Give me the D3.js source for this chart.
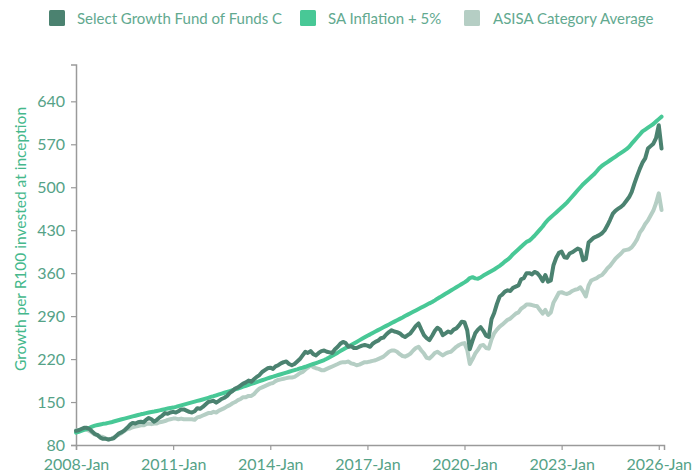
<!DOCTYPE html>
<html>
<head>
<meta charset="utf-8">
<script src="https://cdn.jsdelivr.net/npm/d3@7/dist/d3.min.js"></script>
<style>
  html, body { margin: 0; padding: 0; background: #fff; }
  svg { display: block; }
  text { font-family: Lato, "Open Sans", sans-serif; }
</style>
</head>
<body>
<svg id="chart" width="692" height="474"></svg>
<script>
// ---- Data (monthly, starting 2008-01) ----
const startYear = 2008;
const seriesNames = ["Select Growth Fund of Funds C", "SA Inflation + 5%", "ASISA Category Average"];
const seriesColors = ["#4b8270", "#48c896", "#b5cec4"];

const fundValues = [
  103,104,106,108,108,106,102,98,96,92,90,90,
  89,90,91,95,99,101,104,108,113,116,115,117,
  118,117,121,124,122,118,121,125,128,132,131,133,
  134,133,135,138,138,136,134,133,135,140,139,142,
  146,150,151,152,149,152,155,157,160,165,168,172,
  174,177,180,182,185,183,187,191,194,199,202,205,
  206,204,208,210,213,215,216,212,210,212,216,220,
  226,232,230,233,228,226,230,233,234,232,231,230,
  236,240,245,248,246,240,241,238,238,240,242,243,
  242,240,245,248,250,254,255,260,264,267,265,264,
  262,258,256,259,262,268,274,278,268,259,254,251,
  258,266,271,268,259,262,265,263,268,270,275,281,
  280,267,236,250,262,268,272,266,258,256,285,295,
  310,322,325,330,332,331,336,338,340,350,352,360,
  360,358,362,360,355,347,357,346,348,373,385,393,
  395,386,385,392,394,397,400,398,381,383,410,414,
  418,420,422,425,430,438,447,457,462,465,468,472,
  478,484,492,506,518,530,540,547,563,567,571,580,
  601,563
];

const inflationValues = [
  100,101.5,103,104.5,106,108,110,111.5,112.5,113.5,114.5,115,
  116,117,118.3,119.5,120.7,121.9,123,124.2,125.4,126.6,127.7,128.8,
  130,131,132,133,133.8,134.6,135.5,136.4,137.4,138.4,139.4,140.4,
  141,142.2,143.4,144.6,145.8,147,148.2,149.4,150.6,151.8,153,154.2,
  155.5,156.9,158.3,159.6,161,162.4,163.7,165.1,166.5,167.8,169.2,170.6,
  172,173.5,175,176.5,178,179.5,181,182.5,184,185.5,187,188.5,
  190,191.3,192.7,194,195.3,196.7,198,199.3,200.7,202,203.3,204.7,
  206,207.5,209,210.5,212,213.5,215,216.7,218.4,220.5,223,225.5,
  228,230.5,233,235.5,238,240.5,243,245.5,248,250.5,253,255.5,
  258,260.3,262.6,264.9,267.2,269.5,271.8,274.1,276.4,278.7,281,283.3,
  285.5,287.8,290.1,292.4,294.7,297,299.3,301.6,303.9,306.2,308.5,310.8,
  313,315.7,318.4,321,323.7,326.4,329,331.7,334.4,337,339.7,342.4,
  345,348,352,353.5,351.5,351,353,356,358.5,361,363.5,366,
  369,372,375,379,382,386,391,395,399,403,407,411,
  413,417,421,426,431,436,442,447,451,455,459,463,
  467,471,475,480,485,490,495,500,505,509,513,517,
  521,526,531,535,538,541,544,547,550,553,556,559,
  562,566,571,576,581,586,591,594,597,600,603,607,
  611,615
];

const categoryValues = [
  104,104,105,106,105,103,100,97,96,94,93,91,
  89,90,92,95,97,100,103,106,107,109,110,111,
  112,112,114,115,114,115,115,117,118,119,121,122,
  123,123,122,123,122,122,122,122,121,125,126,128,
  130,132,132,134,133,136,138,140,143,145,148,150,
  153,155,158,158,160,160,163,168,172,174,176,178,
  180,181,184,186,187,188,189,190,190,191,194,197,
  199,203,206,210,207,205,204,202,202,204,206,208,
  210,212,214,215,215,216,213,212,210,211,213,215,
  215,216,217,218,220,222,224,228,232,234,234,232,
  228,225,224,226,229,234,238,240,234,229,222,221,
  225,230,232,229,226,229,231,232,236,240,243,245,
  246,235,212,220,229,235,242,243,238,237,252,262,
  268,273,276,280,284,286,290,294,296,302,305,309,
  309,308,307,306,300,294,300,292,296,312,320,328,
  329,327,326,328,331,333,334,337,330,322,340,348,
  350,352,355,357,362,368,372,378,384,388,392,397,
  398,399,402,408,415,426,432,440,446,454,462,474,
  490,463
];

const yTicks = [80, 150, 220, 290, 360, 430, 500, 570, 640];
const xTickYears = [2008, 2011, 2014, 2017, 2020, 2023, 2026];
const yTitle = "Growth per R100 invested at inception";

// ---- Build ----
const dates = fundValues.map((_, i) => new Date(startYear, i, 1));
const series = [
  { name: seriesNames[2], color: seriesColors[2], values: categoryValues },
  { name: seriesNames[1], color: seriesColors[1], values: inflationValues },
  { name: seriesNames[0], color: seriesColors[0], values: fundValues }
];

const svg = d3.select("#chart");
const x = d3.scaleTime()
  .domain([new Date(2008, 0, 1), new Date(2026, 2, 1)])
  .range([76, 664]);
const y = d3.scaleLinear().domain([80, 700]).range([445, 64.5]);

const tickColor = "#55a287";
const axisColor = "#9a9a9a";

// Y axis
const yAxis = svg.append("g")
  .attr("transform", "translate(76,0)")
  .call(d3.axisLeft(y).tickValues(yTicks).tickSizeOuter(0).tickSize(5).tickPadding(6));
yAxis.select(".domain").attr("stroke", axisColor).attr("stroke-width", 1.5);
yAxis.selectAll(".tick line").attr("stroke", axisColor).attr("stroke-width", 1.2);
yAxis.selectAll(".tick text").attr("fill", tickColor).style("font-size", "16px").style("font-family", "Lato, sans-serif");

// X axis
const xAxis = svg.append("g")
  .attr("transform", "translate(0,445)")
  .call(d3.axisBottom(x)
    .tickValues(xTickYears.map(yy => new Date(yy, 0, 1)))
    .tickFormat(d3.timeFormat("%Y-%b"))
    .tickSizeOuter(0).tickSize(5).tickPadding(9));
xAxis.select(".domain").attr("stroke", axisColor).attr("stroke-width", 1.5);
xAxis.selectAll(".tick line").attr("stroke", axisColor).attr("stroke-width", 1.2);
xAxis.selectAll(".tick text").attr("fill", tickColor).style("font-size", "16px").style("font-family", "Lato, sans-serif");

// Y title
svg.append("text")
  .attr("transform", "translate(26,239) rotate(-90)")
  .attr("text-anchor", "middle")
  .attr("fill", "#45b88c")
  .style("font-size", "15.5px")
  .text(yTitle);

// Lines
const line = d3.line()
  .x((d, i) => x(dates[i]))
  .y(d => y(d))
  .curve(d3.curveLinear);

svg.append("g").selectAll("path")
  .data(series)
  .join("path")
  .attr("fill", "none")
  .attr("stroke", d => d.color)
  .attr("stroke-width", 4)
  .attr("stroke-linejoin", "round")
  .attr("stroke-linecap", "round")
  .attr("d", d => line(d.values));

// Legend
const legendItems = [
  { name: seriesNames[0], color: seriesColors[0], sx: 49, tx: 77 },
  { name: seriesNames[1], color: seriesColors[1], sx: 300, tx: 328 },
  { name: seriesNames[2], color: seriesColors[2], sx: 464, tx: 493 }
];
const lg = svg.append("g");
legendItems.forEach(it => {
  lg.append("rect").attr("x", it.sx).attr("y", 10).attr("width", 16).attr("height", 16)
    .attr("rx", 1.5).attr("fill", it.color);
  lg.append("text").attr("x", it.tx).attr("y", 23.5)
    .attr("fill", "#62a98f").style("font-size", "15px").text(it.name);
});
</script>
</body>
</html>
